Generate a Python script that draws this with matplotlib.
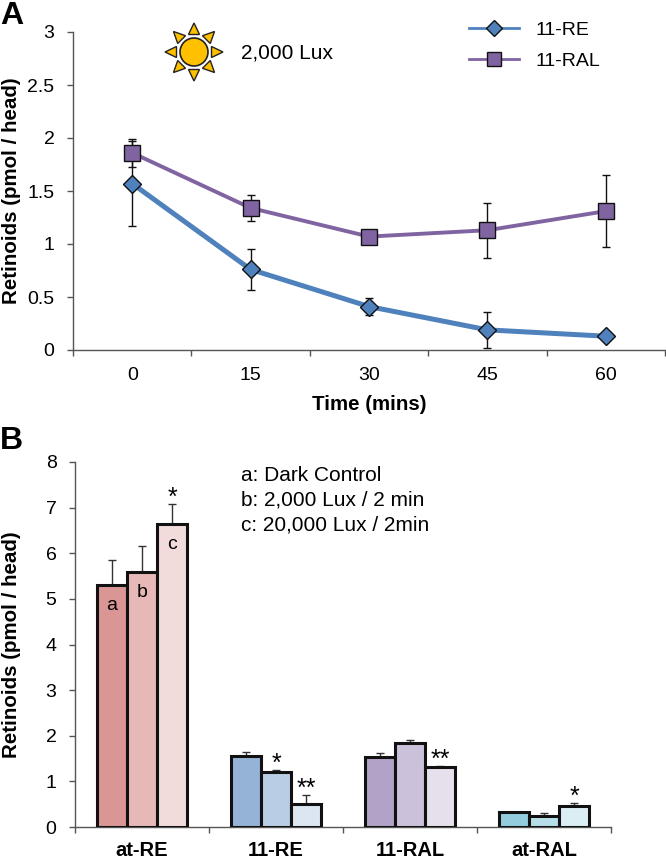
#!/usr/bin/env python3
"""
Retinoid levels under light exposure, two panels
"""

import numpy as np
import matplotlib
matplotlib.use("Agg")
import matplotlib.pyplot as plt
from matplotlib.lines import Line2D
from matplotlib.patches import Ellipse, Polygon

plt.rcParams['font.family'] = ['Liberation Sans', 'DejaVu Sans']

W, H = 666, 859

# Panel A
times = ['0', '15', '30', '45', '60']
re_vals = [1.57, 0.76, 0.41, 0.19, 0.13]
re_err = [0.40, 0.19, 0.08, 0.17, 0.04]
ral_vals = [1.86, 1.34, 1.07, 1.13, 1.31]
ral_err = [0.13, 0.12, 0.05, 0.26, 0.34]

# Panel B
groups = ['at-RE', '11-RE', '11-RAL', 'at-RAL']
dark_vals = [5.30, 1.55, 1.53, 0.32]
dark_err = [0.55, 0.09, 0.10, 0.01]
lux2k_vals = [5.58, 1.20, 1.85, 0.25]
lux2k_err = [0.57, 0.05, 0.06, 0.05]
lux20k_vals = [6.65, 0.50, 1.32, 0.46]
lux20k_err = [0.43, 0.20, 0.01, 0.07]
dark_colors = ['#D99694', '#95B3D7', '#B3A2C7', '#93CDDD']
lux2k_colors = ['#E6B9B8', '#B9CDE5', '#CCC1DA', '#B7DEE8']
lux20k_colors = ['#F2DCDB', '#DCE6F2', '#E6E0EC', '#DBEEF4']
stars_mid = ['', '*', '', '']
stars_high = ['*', '**', '**', '*']


def px_axes(fig, left, top, right, bottom):
    """Axes placed by pixel edges, measured from the top left of the image"""
    return fig.add_axes([left / W, 1 - bottom / H, (right - left) / W, (bottom - top) / H])


def style_axes(ax):
    for side in ['top', 'right']:
        ax.spines[side].set_visible(False)
    for side in ['left', 'bottom']:
        ax.spines[side].set_color('#555555')
        ax.spines[side].set_linewidth(1.0)
    ax.tick_params(axis='both', color='#555555', width=1.0, length=4.3, labelsize=14)
    ax.tick_params(axis='y', pad=9)


def draw_sun(fig, cx, cy):
    """Sun icon in image pixels"""
    sun = fig.add_axes([0, 0, 1, 1], facecolor='none')
    sun.set_xlim(0, W)
    sun.set_ylim(H, 0)
    sun.axis('off')
    c = np.array([cx, cy])
    for angle in np.arange(0, 360, 45):
        a = np.radians(angle)
        d = np.array([np.cos(a), np.sin(a)])
        n = np.array([-d[1], d[0]])
        pts = [c + d * 29, c + d * 17.5 + n * 5.5, c + d * 17.5 - n * 5.5]
        sun.add_patch(Polygon(pts, closed=True, fc='#FFC000', ec='#222222', lw=1.0))
    sun.add_patch(Ellipse((cx, cy), 28, 28, fc='#FFC000', ec='#222222', lw=1.2))


def panel_a(fig):
    ax = px_axes(fig, 73, 32, 665, 350)
    style_axes(ax)
    x = np.arange(len(times))
    ax.errorbar(x, re_vals, yerr=re_err, color='#4F81BD', lw=3.6, ecolor='#111111',
                elinewidth=1.0, capsize=3, capthick=1.0, marker='D', ms=9,
                mfc='#4F81BD', mec='#111111', mew=1.0, zorder=3)
    ax.errorbar(x, ral_vals, yerr=ral_err, color='#8064A2', lw=2.8, ecolor='#111111',
                elinewidth=1.0, capsize=3, capthick=1.0, marker='s', ms=12,
                mfc='#8064A2', mec='#111111', mew=1.0, zorder=4)
    ax.set_xlim(-0.5, 4.5)
    ax.set_ylim(0, 3)
    # tick marks sit between the categories, labels on them
    ax.set_xticks(np.arange(-0.5, 5, 1))
    ax.set_xticklabels([])
    ax.set_xticks(x, times, minor=True)
    ax.tick_params(axis='x', which='minor', length=0, pad=12.5, labelsize=14)
    ax.set_yticks([0, 0.5, 1, 1.5, 2, 2.5, 3], ['0', '0.5', '1', '1.5', '2', '2.5', '3'])
    ax.set_xlabel('Time (mins)', fontsize=14.8, fontweight='bold', labelpad=7.5)
    ax.set_ylabel('Retinoids (pmol / head)', fontsize=14.8, fontweight='bold')
    ax.yaxis.set_label_coords((21 - 73) / (665 - 73), 0.5)
    handles = [
        Line2D([], [], color='#4F81BD', lw=2, marker='D', ms=8.2, mfc='#4F81BD', mec='#111111'),
        Line2D([], [], color='#8064A2', lw=2, marker='s', ms=10.5, mfc='#8064A2', mec='#111111'),
    ]
    ax.legend(handles, ['11-RE', '11-RAL'], loc='upper left',
              bbox_to_anchor=(469 / W, 1 - 21 / H), bbox_transform=fig.transFigure,
              frameon=False, fontsize=14, borderpad=0, borderaxespad=0,
              handlelength=2.57, handletextpad=0.87, labelspacing=0.72)
    fig.text(241 / W, 1 - 53 / H, '2,000 Lux', fontsize=15, va='center')


def panel_b(fig):
    ax = px_axes(fig, 75, 462, 611, 827)
    style_axes(ax)
    x = np.arange(len(groups))
    w = 30 / 134
    series = [
        (-w, dark_vals, dark_err, dark_colors),
        (0, lux2k_vals, lux2k_err, lux2k_colors),
        (w, lux20k_vals, lux20k_err, lux20k_colors),
    ]
    for off, vals, errs, colors in series:
        ax.bar(x + off, vals, w, color=colors, edgecolor='#111111', linewidth=2.2, zorder=3,
               yerr=[np.zeros(len(vals)), errs],
               error_kw=dict(ecolor='#333333', elinewidth=1.0, capsize=3, capthick=1.0, zorder=2))
    ax.set_xlim(-0.5, 3.5)
    ax.set_ylim(0, 8)
    ax.set_xticks(np.arange(-0.5, 4, 1))
    ax.set_xticklabels([])
    for i, g in enumerate(groups):
        ax.text(i, -0.64, g, ha='center', va='baseline', fontsize=14.5, fontweight='bold')
    ax.set_yticks(range(9))
    ax.set_ylabel('Retinoids (pmol / head)', fontsize=14.8, fontweight='bold')
    ax.yaxis.set_label_coords((21 - 75) / (611 - 75), 0.5)

    # letters inside the first group of bars
    for off, val, letter in zip([-w, 0, w], [dark_vals[0], lux2k_vals[0], lux20k_vals[0]], 'abc'):
        ax.text(off, val - 0.45, letter, ha='center', va='center', fontsize=14, zorder=5)

    # significance marks, baseline at the top of the error bar
    for i in range(len(groups)):
        if stars_mid[i]:
            ax.text(i, lux2k_vals[i] + lux2k_err[i] - 0.02, stars_mid[i], ha='center',
                    va='baseline', fontsize=18, zorder=5)
        ax.text(i + w, lux20k_vals[i] + lux20k_err[i] - 0.02, stars_high[i], ha='center',
                va='baseline', fontsize=18, zorder=5)

    for label, py in [('a: Dark Control', 476), ('b: 2,000 Lux / 2 min', 500), ('c: 20,000 Lux / 2min', 525)]:
        fig.text(241 / W, 1 - py / H, label, fontsize=15, va='center')


def main():
    fig = plt.figure(figsize=(W / 100, H / 100), dpi=100)
    panel_a(fig)
    panel_b(fig)
    draw_sun(fig, 194, 52)
    fig.text(0 / W, 1 - 1 / H, 'A', fontsize=23, fontweight='bold', va='top')
    fig.text(0 / W, 1 - 441 / H, 'B', fontsize=23, fontweight='bold', va='center')
    fig.savefig('out.png', dpi=100)


if __name__ == "__main__":
    main()
